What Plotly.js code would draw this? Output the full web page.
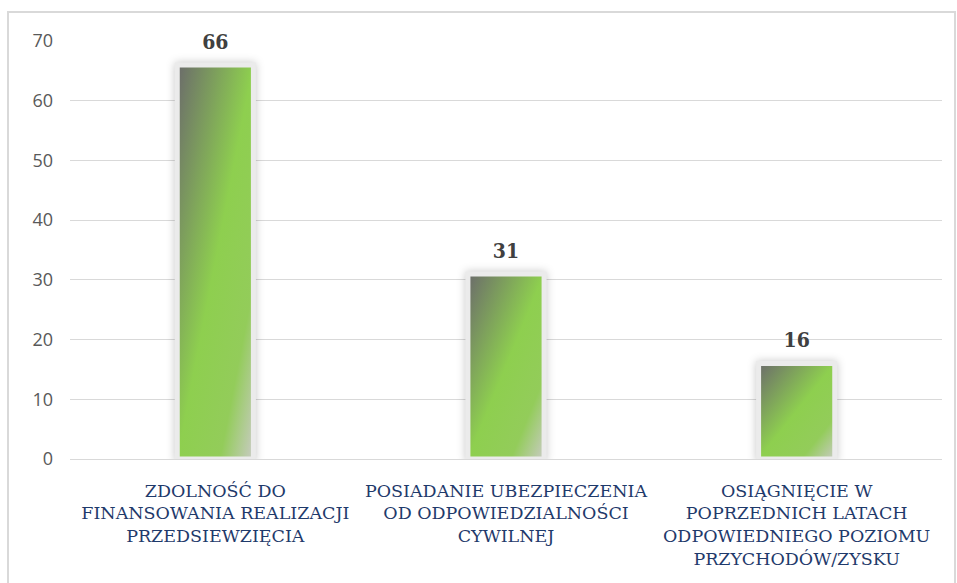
<!DOCTYPE html>
<html>
<head>
<meta charset="utf-8">
<script src="https://cdn.plot.ly/plotly-3.0.1.min.js"></script>
<style>
html,body{margin:0;padding:0;background:#fff;}
#chart{width:957px;height:583px;}
.barlayer .point path{filter:drop-shadow(0 0 4px rgba(0,0,0,0.22));}
</style>
</head>
<body>
<div id="chart"></div>
<script>
const categories = [
  "ZDOLNOŚĆ DO<br>FINANSOWANIA REALIZACJI<br>PRZEDSIEWZIĘCIA",
  "POSIADANIE UBEZPIECZENIA<br>OD ODPOWIEDZIALNOŚCI<br>CYWILNEJ",
  "OSIĄGNIĘCIE W<br>POPRZEDNICH LATACH<br>ODPOWIEDNIEGO POZIOMU<br>PRZYCHODÓW/ZYSKU"
];
const values = [66, 31, 16];
const yTicks = [0, 10, 20, 30, 40, 50, 60, 70];

const trace = {
  type: 'bar',
  x: categories,
  y: values,
  width: 0.262,
  marker: {color: '#8bc34a', line: {color: '#ebebeb', width: 5}},
  text: values.map(String),
  textposition: 'outside',
  cliponaxis: false,
  textfont: {family: 'DejaVu Serif Condensed, DejaVu Serif, serif', size: 21, color: '#404040', weight: 'bold'},
  hoverinfo: 'none'
};

const layout = {
  width: 957, height: 583,
  margin: {l: 70, r: 15, t: 41, b: 124},
  paper_bgcolor: '#fff', plot_bgcolor: '#fff',
  showlegend: false,
  bargap: 0,
  xaxis: {
    type: 'category',
    tickfont: {family: 'DejaVu Serif, serif', size: 17.5, color: '#1F3A6B'},
    showgrid: false, zeroline: false, showline: false, ticks: '',
    ticklabelstandoff: 19
  },
  yaxis: {
    range: [0, 70],
    tickvals: yTicks,
    ticktext: yTicks.map(String),
    tickfont: {family: 'Open Sans, sans-serif', size: 18, color: '#595959'},
    showgrid: true, gridcolor: '#d9d9d9', gridwidth: 1,
    zeroline: true, zerolinecolor: '#d9d9d9', zerolinewidth: 1,
    showline: false, ticks: '',
    ticklabelstandoff: 16
  },
  shapes: [{
    type: 'rect', xref: 'paper', yref: 'paper',
    x0: (8-70)/872, x1: (955-70)/872, y0: (459-600)/418, y1: (459-12)/418,
    line: {color: '#d9d9d9', width: 2}, fillcolor: 'rgba(0,0,0,0)', layer: 'below'
  }]
};

Plotly.newPlot('chart', [trace], layout, {staticPlot: true}).then(function(gd){
  const svg = gd.querySelector('svg.main-svg');
  const ns = 'http://www.w3.org/2000/svg';
  let defs = svg.querySelector('defs');
  if (!defs) { defs = document.createElementNS(ns, 'defs'); svg.insertBefore(defs, svg.firstChild); }
  const g = document.createElementNS(ns, 'linearGradient');
  g.setAttribute('id', 'barGrad');
  g.setAttribute('x1', '0'); g.setAttribute('y1', '0');
  g.setAttribute('x2', '1'); g.setAttribute('y2', '1');
  [['0', '#6b6b6b'], ['0.5', '#8ecf4f'], ['0.78', '#93cc5a'], ['1', '#c9cbc4']].forEach(function(s){
    const st = document.createElementNS(ns, 'stop');
    st.setAttribute('offset', s[0]); st.setAttribute('stop-color', s[1]);
    g.appendChild(st);
  });
  defs.appendChild(g);
  gd.querySelectorAll('.barlayer .point path').forEach(function(p){
    p.style.fill = 'url(#barGrad)';
  });
  gd.querySelectorAll('.barlayer .point text').forEach(function(t){
    const tr = t.getAttribute('transform') || '';
    t.setAttribute('transform', 'translate(0,-8) ' + tr);
  });
});
</script>
</body>
</html>
